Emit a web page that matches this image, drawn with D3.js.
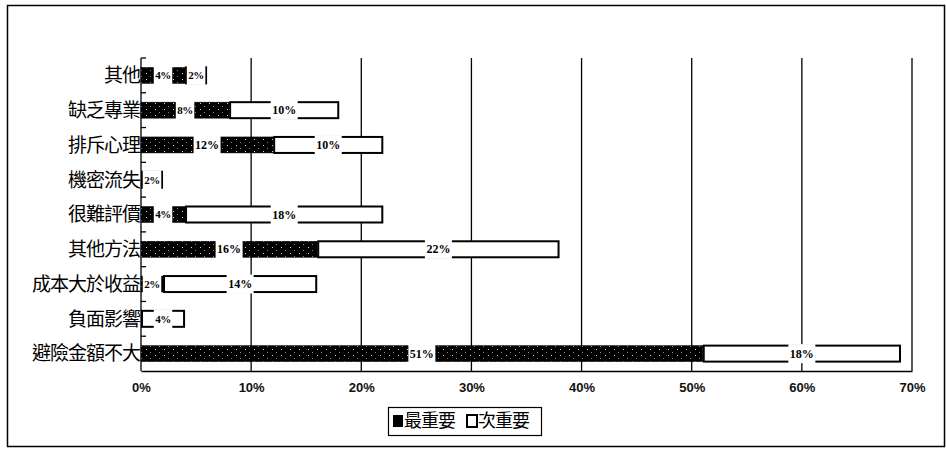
<!DOCTYPE html>
<html>
<head>
<meta charset="utf-8">
<script src="https://cdn.jsdelivr.net/npm/d3@7/dist/d3.min.js"></script>
<style>
  html, body { margin: 0; padding: 0; background: #fff; }
  svg { display: block; }
</style>
</head>
<body>
<svg id="chart" width="946" height="449"></svg>
<script>
// Reasons, listed top to bottom
const categories = ["其他", "缺乏專業", "排斥心理", "機密流失", "很難評價", "其他方法", "成本大於收益", "負面影響", "避險金額不大"];
// Share of respondents (%) per reason
const mostImportant = [4, 8, 12, 0, 4, 16, 2, 0, 51];
const secondImportant = [2, 10, 10, 2, 18, 22, 14, 4, 18];
const seriesNames = ["最重要", "次重要"];
const xTicks = [0, 10, 20, 30, 40, 50, 60, 70];

const svg = d3.select("#chart");

// mostly black fill with sparse light dots for the first series
const defs = svg.append("defs");
const pat = defs.append("pattern")
  .attr("id", "dots").attr("patternUnits", "userSpaceOnUse")
  .attr("width", 9).attr("height", 6);
pat.append("rect").attr("width", 9).attr("height", 6).attr("fill", "#000");
pat.append("rect").attr("x", 2).attr("y", 1).attr("width", 1).attr("height", 1).attr("fill", "#ddd");
pat.append("rect").attr("x", 6).attr("y", 4).attr("width", 1).attr("height", 1).attr("fill", "#888");

// outer frame
svg.append("rect").attr("x", 7.5).attr("y", 5.5).attr("width", 937).attr("height", 441)
  .attr("fill", "none").attr("stroke", "#000").attr("stroke-width", 1.5);

const plotTop = 58, plotBottom = 371;
const x = d3.scaleLinear().domain([0, 70]).range([141, 912]);
const y = d3.scaleBand().domain(categories).range([plotTop, plotBottom]).paddingInner(0.54).paddingOuter(0.27);

// vertical gridlines
svg.append("g").selectAll("line").data(xTicks.slice(1)).join("line")
  .attr("x1", d => x(d)).attr("x2", d => x(d))
  .attr("y1", plotTop).attr("y2", plotBottom)
  .attr("stroke", "#000").attr("stroke-width", 1.3);

// x axis
const xAxis = svg.append("g").attr("transform", `translate(0,${plotBottom})`)
  .call(d3.axisBottom(x).tickValues(xTicks).tickFormat(d => d + "%").tickSize(0).tickPadding(12));
xAxis.select(".domain").attr("stroke", "#000").attr("stroke-width", 1.3);
xAxis.selectAll("text").attr("font-family", "Liberation Sans, Arial, sans-serif")
  .attr("font-size", 13).attr("font-weight", "bold").attr("fill", "#111");

// y axis with inward ticks at category boundaries
svg.append("line").attr("x1", x(0)).attr("x2", x(0)).attr("y1", plotTop).attr("y2", plotBottom)
  .attr("stroke", "#000").attr("stroke-width", 1.3);
svg.append("g").selectAll("line").data(categories).join("line")
  .attr("x1", x(0)).attr("x2", x(0) + 5)
  .attr("y1", (d, i) => plotTop + i * (plotBottom - plotTop) / categories.length)
  .attr("y2", (d, i) => plotTop + i * (plotBottom - plotTop) / categories.length)
  .attr("stroke", "#000").attr("stroke-width", 1.3);

svg.append("g").selectAll("text").data(categories).join("text")
  .attr("x", x(0) - 1).attr("y", d => y(d) + y.bandwidth() / 2)
  .attr("dy", "0.36em").attr("text-anchor", "end")
  .attr("font-family", "Noto Sans CJK TC, sans-serif").attr("font-size", 19)
  .attr("letter-spacing", -1).attr("fill", "#000")
  .text(d => d);

// stacked segments
const rows = categories.map((c, i) => ({ cat: c, a: mostImportant[i], b: secondImportant[i] }));
const segs = [];
rows.forEach(r => {
  if (r.a > 0) segs.push({ cat: r.cat, s: 0, x0: 0, x1: r.a, v: r.a });
  if (r.b > 0) segs.push({ cat: r.cat, s: 1, x0: r.a, x1: r.a + r.b, v: r.b });
});

const gBars = svg.append("g");
gBars.selectAll("rect").data(segs).join("rect")
  .attr("x", d => x(d.x0) + (d.s === 1 ? 1 : 0))
  .attr("y", d => y(d.cat))
  .attr("width", d => x(d.x1) - x(d.x0) - (d.s === 1 ? 2 : 0))
  .attr("height", y.bandwidth())
  .attr("fill", d => d.s === 0 ? "url(#dots)" : "#fff")
  .attr("stroke", "#000")
  .attr("stroke-width", d => d.s === 0 ? 0.5 : 2);

// value labels centred on each segment, with a white box behind
const gLab = svg.append("g");
segs.forEach(d => {
  const cx = (x(d.x0) + x(d.x1)) / 2;
  const cy = y(d.cat) + y.bandwidth() / 2;
  const small = d.v < 10;
  const t = gLab.append("text")
    .attr("x", cx).attr("y", cy).attr("dy", "0.35em").attr("text-anchor", "middle")
    .attr("font-family", "Liberation Serif, Times New Roman, serif")
    .attr("font-size", small ? 11 : 12).attr("font-weight", "bold").attr("fill", "#000")
    .attr("letter-spacing", small ? -0.5 : 0)
    .text(d.v + "%");
  const w = t.node().getComputedTextLength() + 3;
  gLab.insert("rect", "text")
    .attr("x", cx - w / 2).attr("y", y(d.cat) - 1.5)
    .attr("width", w).attr("height", y.bandwidth() + 3).attr("fill", "#fff");
});

// legend
const lg = svg.append("g").attr("transform", "translate(388,407)");
lg.append("rect").attr("x", 0.5).attr("y", 0.5).attr("width", 153).attr("height", 28)
  .attr("fill", "#fff").attr("stroke", "#000").attr("stroke-width", 1.2);
lg.append("rect").attr("x", 5).attr("y", 8).attr("width", 10).attr("height", 12).attr("fill", "#000");
lg.append("rect").attr("x", 79).attr("y", 8).attr("width", 10).attr("height", 12)
  .attr("fill", "#fff").attr("stroke", "#000").attr("stroke-width", 2);
lg.selectAll("text.lt").data(seriesNames).join("text").attr("class", "lt")
  .attr("x", (d, i) => i === 0 ? 16 : 90).attr("y", 14).attr("dy", "0.36em")
  .attr("font-family", "Noto Sans CJK TC, sans-serif").attr("font-size", 18)
  .attr("letter-spacing", -1).attr("fill", "#000")
  .text(d => d);
</script>
</body>
</html>
